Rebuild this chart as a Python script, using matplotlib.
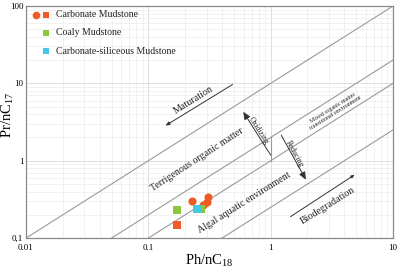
import numpy as np
import matplotlib
matplotlib.use("Agg")
import matplotlib.pyplot as plt

plt.rcParams["font.family"] = ["Liberation Serif", "DejaVu Serif"]
plt.rcParams["mathtext.fontset"] = "custom"
plt.rcParams["mathtext.rm"] = "Liberation Serif"
plt.rcParams["mathtext.it"] = "Liberation Serif:italic"

# Pr/nC17 vs Ph/nC18 samples
carb_circle_x = [0.227, 0.28, 0.30, 0.31]
carb_circle_y = [0.30, 0.265, 0.29, 0.34]
carb_square_x = [0.172]
carb_square_y = [0.147]
coaly_x = [0.172, 0.27]
coaly_y = [0.23, 0.235]
carb_sil_x = [0.25]
carb_sil_y = [0.237]

# boundary lines Pr/nC17 = k * Ph/nC18
boundary_k = [10, 2, 1, 0.25]

x_ticks = [0.01, 0.1, 1, 10]
x_labels = ["0.01", "0.1", "1", "10"]
y_ticks = [0.1, 1, 10, 100]
y_labels = ["0,1", "1", "10", "100"]

ORANGE = "#F05A23"
GREEN = "#8DC63F"
CYAN = "#45C8E4"
LINE = "#9a9a9a"

fig = plt.figure(figsize=(4.0, 2.74), dpi=100)
ax = fig.add_axes([0.065, 0.131, 0.9175, 0.847])
ax.set_xscale("log")
ax.set_yscale("log")
ax.set_xlim(0.01, 10)
ax.set_ylim(0.1, 100)

ax.grid(True, which="major", color="#d8d8d8", lw=0.6)
ax.grid(True, which="minor", color="#ececec", lw=0.5)
ax.set_axisbelow(True)
for s in ax.spines.values():
    s.set_color("#8a8a8a")
    s.set_linewidth(0.9)
ax.tick_params(which="both", length=0, labelsize=6.5, pad=2)
ax.tick_params(axis="x", pad=4)
ax.set_xticks(x_ticks, x_labels)
ax.set_yticks(y_ticks, y_labels)
ax.minorticks_on()
ax.tick_params(which="minor", length=0)
ax.xaxis.set_minor_formatter(matplotlib.ticker.NullFormatter())
ax.yaxis.set_minor_formatter(matplotlib.ticker.NullFormatter())

xs = np.array([0.01, 10])
for k in boundary_k:
    ax.plot(xs, k * xs, color=LINE, lw=0.8, zorder=2)

# vertical divider of the mixed zone
ax.plot([1, 1], [1, 2], color=LINE, lw=0.8, zorder=2)

# arrows
ax.annotate("", xy=(0.132, 2.72), xytext=(0.51, 10.1),
            arrowprops=dict(arrowstyle="-|>,head_length=0.25,head_width=0.1",
                            color="#333333", lw=0.7))
ax.annotate("", xy=(0.58, 4.6), xytext=(1.03, 1.1),
            arrowprops=dict(arrowstyle="-|>,head_length=0.45,head_width=0.2",
                            color="#333333", lw=0.7))
ax.annotate("", xy=(1.99, 0.53), xytext=(1.19, 2.3),
            arrowprops=dict(arrowstyle="-|>,head_length=0.45,head_width=0.2",
                            color="#333333", lw=0.7))
ax.annotate("", xy=(5.08, 0.69), xytext=(1.39, 0.181),
            arrowprops=dict(arrowstyle="-|>,head_length=0.2,head_width=0.08",
                            color="#333333", lw=0.7))

# region labels
txt = dict(ha="center", va="center", color="#222222")
ax.text(0.25, 1.02, "Terrigenous organic matter", rotation=33, fontsize=7.2, **txt)
ax.text(0.605, 0.283, "Algal aquatic environment", rotation=32, fontsize=7.2, **txt)
ax.text(0.232, 6.08, "Maturation", rotation=32, fontsize=7.2, **txt)
ax.text(2.94, 0.259, "Biodegradation", rotation=32, fontsize=7.2, **txt)
ax.text(0.80, 2.41, "Oxidizing", rotation=-57, fontsize=5.5, **txt)
ax.text(1.55, 1.22, "Reducing", rotation=-61, fontsize=5.5, **txt)
ax.text(3.3, 4.5, "Mixed organic matter\ntransitional environment", rotation=32,
        fontsize=4.3, linespacing=1.1, **txt)

# samples
ax.scatter(carb_circle_x, carb_circle_y, s=34, marker="o", color=ORANGE, lw=0, zorder=4)
ax.scatter(carb_square_x, carb_square_y, s=26, marker="s", color=ORANGE, lw=0, zorder=4)
ax.scatter(coaly_x, coaly_y, s=26, marker="s", color=GREEN, lw=0, zorder=4)
ax.scatter(carb_sil_x, carb_sil_y, s=26, marker="s", color=CYAN, lw=0, zorder=5)

# legend drawn by hand
tr = ax.transAxes
leg_items = [
    ([ORANGE, ORANGE], ["o", "s"], "Carbonate Mudstone"),
    ([GREEN], ["s"], "Coaly Mudstone"),
    ([CYAN], ["s"], "Carbonate-siliceous Mudstone"),
]
for i, (cols, marks, label) in enumerate(leg_items):
    yy = 0.962 - i * 0.078
    if len(marks) == 2:
        ax.scatter([0.026], [yy], s=30, marker=marks[0], color=cols[0], lw=0, transform=tr, zorder=6)
    ax.scatter([0.0545], [yy], s=22, marker=marks[-1], color=cols[-1], lw=0, transform=tr, zorder=6)
    ax.text(0.082, yy, label, transform=tr, fontsize=7, va="center", ha="left", color="#222222")

ax.set_xlabel(r"Ph/nC$_{18}$", fontsize=10.5, labelpad=1)
ax.set_ylabel(r"Pr/nC$_{17}$", fontsize=10.5)
ax.yaxis.set_label_coords(-0.026, 0.53)

fig.savefig("out.png", dpi=100)
